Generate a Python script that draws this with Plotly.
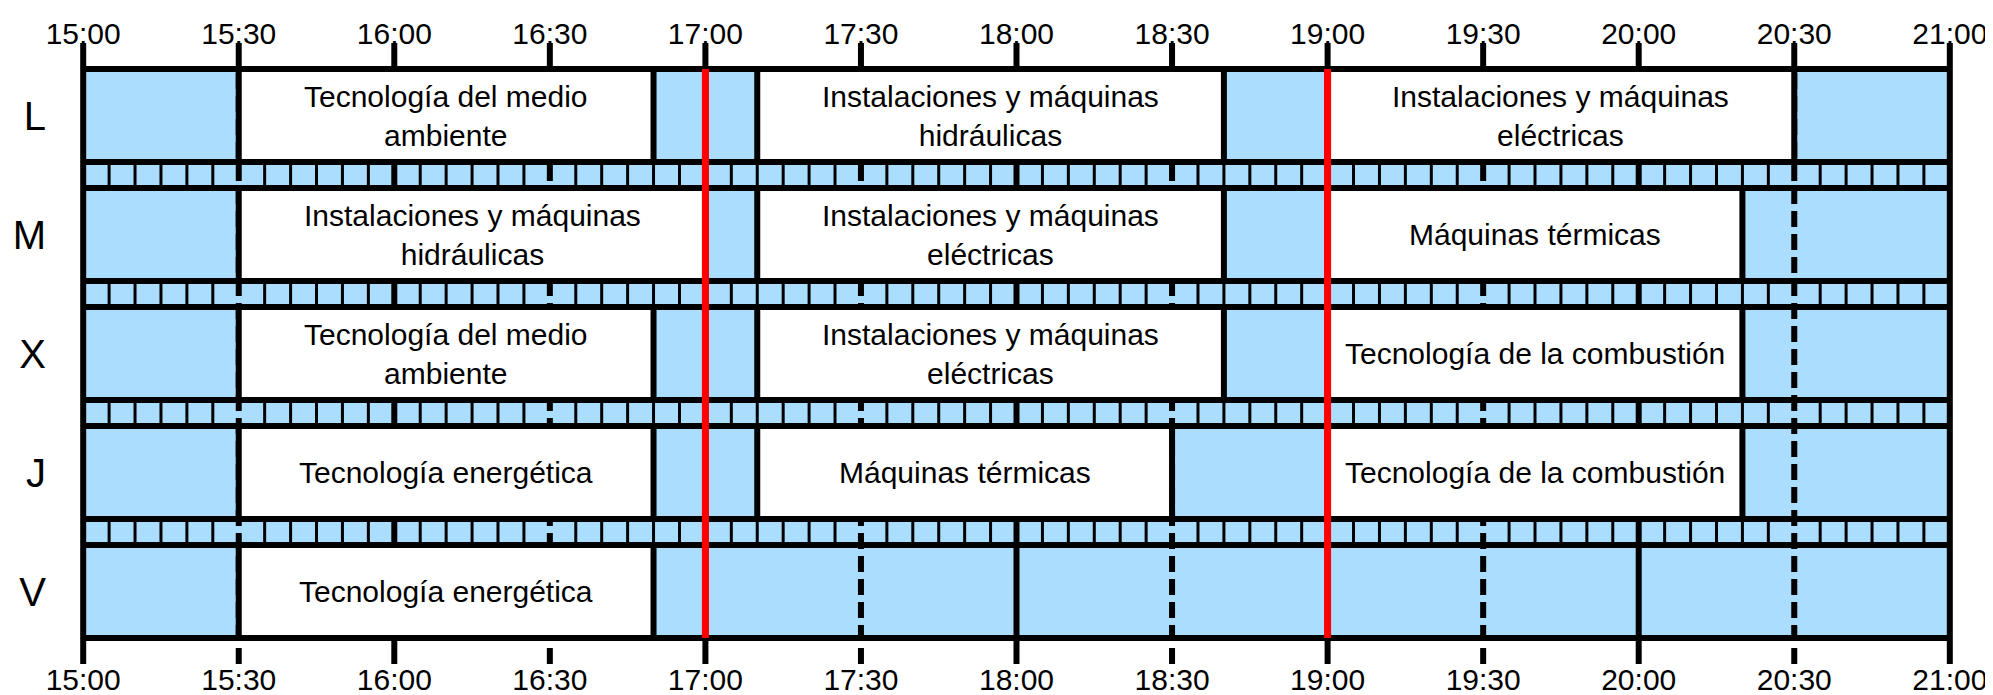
import plotly.graph_objects as go

# Horario de tarde (L-V), bloques de 15:00 a 21:00
DAYS = ["L", "M", "X", "J", "V"]
TIME_LABELS = ["15:00", "15:30", "16:00", "16:30", "17:00", "17:30", "18:00",
               "18:30", "19:00", "19:30", "20:00", "20:30", "21:00"]
BREAK_TIMES = ["17:00", "19:00"]

CLASS_DAY = ["L", "L", "L", "M", "M", "M", "X", "X", "X", "J", "J", "J", "V"]
CLASS_START = ["15:30", "17:10", "19:00",
               "15:30", "17:10", "19:00",
               "15:30", "17:10", "19:00",
               "15:30", "17:10", "19:00",
               "15:30"]
CLASS_END = ["16:50", "18:40", "20:30",
             "17:00", "18:40", "20:20",
             "16:50", "18:40", "20:20",
             "16:50", "18:30", "20:20",
             "16:50"]
CLASS_NAME = ["Tecnología del medio<br>ambiente",
              "Instalaciones y máquinas<br>hidráulicas",
              "Instalaciones y máquinas<br>eléctricas",
              "Instalaciones y máquinas<br>hidráulicas",
              "Instalaciones y máquinas<br>eléctricas",
              "Máquinas térmicas",
              "Tecnología del medio<br>ambiente",
              "Instalaciones y máquinas<br>eléctricas",
              "Tecnología de la combustión",
              "Tecnología energética",
              "Máquinas térmicas",
              "Tecnología de la combustión",
              "Tecnología energética"]

BLUE = "#abddff"
FONT = "Arial, Liberation Sans, sans-serif"
ROW_H = 93      # alto de una fila de día
STRIP_H = 26    # alto de la banda de 5 minutos
PERIOD = ROW_H + STRIP_H
TICK = 26
LW = 6


def to_min(t):
    h, m = t.split(":")
    return (int(h) - 15) * 60 + int(m)


t_end = to_min(TIME_LABELS[-1])
y_end = len(DAYS) * PERIOD - STRIP_H
row_top = {d: i * PERIOD for i, d in enumerate(DAYS)}
row_mid = {d: i * PERIOD + ROW_H / 2 for i, d in enumerate(DAYS)}

starts = [to_min(s) for s in CLASS_START]
ends = [to_min(e) for e in CLASS_END]

fig = go.Figure()
fig.add_trace(
    go.Bar(
        orientation="h",
        base=starts,
        x=[e - s for s, e in zip(starts, ends)],
        y=[row_mid[d] for d in CLASS_DAY],
        width=ROW_H,
        marker=dict(color="white", line=dict(color="black", width=LW)),
        hoverinfo="skip",
        showlegend=False,
    )
)
# traza vacía para activar el eje superior
fig.add_trace(
    go.Scatter(x=[0, t_end], y=[None, None], xaxis="x2", mode="lines",
               hoverinfo="skip", showlegend=False)
)

for s, e, d, name in zip(starts, ends, CLASS_DAY, CLASS_NAME):
    fig.add_annotation(
        x=(s + e) / 2, y=row_mid[d], text=name, showarrow=False,
        font=dict(family=FONT, size=30, color="black"), align="center",
    )

shapes = []
# fondo azul
shapes.append(dict(type="rect", x0=0, x1=t_end, y0=0, y1=y_end, layer="below",
                   fillcolor=BLUE, line=dict(width=0)))
# divisiones de 5 minutos en las bandas
for m in range(5, t_end, 5):
    if m % 30 == 0:
        continue
    for i in range(len(DAYS) - 1):
        y0 = i * PERIOD + ROW_H
        shapes.append(dict(type="line", x0=m, x1=m, y0=y0, y1=y0 + STRIP_H, layer="below",
                           line=dict(color="black", width=3)))
# líneas de hora y media hora
for t in TIME_LABELS:
    m = to_min(t)
    if m in (0, t_end):
        continue
    if m % 60 == 0:
        shapes.append(dict(type="line", x0=m, x1=m, y0=-TICK, y1=y_end + TICK, layer="below",
                           line=dict(color="black", width=LW)))
    else:
        shapes.append(dict(type="line", x0=m, x1=m, y0=y_end + TICK, y1=0, layer="below",
                           line=dict(color="black", width=LW, dash="16px,7px")))
        shapes.append(dict(type="line", x0=m, x1=m, y0=-TICK, y1=0, layer="below",
                           line=dict(color="black", width=LW)))
# bordes laterales
for m in (0, t_end):
    shapes.append(dict(type="line", x0=m, x1=m, y0=-TICK, y1=y_end + TICK, layer="above",
                       line=dict(color="black", width=LW)))
# líneas horizontales de filas
for d in DAYS:
    for y in (row_top[d], row_top[d] + ROW_H):
        shapes.append(dict(type="line", x0=0, x1=t_end, y0=y, y1=y, layer="above",
                           line=dict(color="black", width=LW)))
# descansos
for t in BREAK_TIMES:
    m = to_min(t)
    shapes.append(dict(type="line", x0=m, x1=m, y0=0, y1=y_end, layer="above",
                       line=dict(color="#ff0000", width=7)))

tickvals = [to_min(t) for t in TIME_LABELS]
xaxis_common = dict(
    range=[-1, t_end + 1], tickvals=tickvals, ticktext=TIME_LABELS, ticks="",
    showgrid=False, zeroline=False, showline=False, fixedrange=True, automargin=False,
    tickfont=dict(family=FONT, size=30, color="black"),
)

# la página añade 8 px de margen al cuerpo
fig.update_layout(
    width=1985, height=687,
    margin=dict(l=70, r=38, t=35, b=31),
    paper_bgcolor="white", plot_bgcolor="white",
    shapes=shapes,
    showlegend=False,
    xaxis=dict(**xaxis_common, side="bottom", ticklabelstandoff=-5),
    xaxis2=dict(**xaxis_common, side="top", overlaying="x", ticklabelstandoff=-8),
    yaxis=dict(
        range=[y_end + TICK, -TICK], tickvals=[row_mid[d] for d in DAYS], ticktext=DAYS,
        ticks="", showgrid=False, zeroline=False, showline=False, fixedrange=True,
        automargin=False,
        tickfont=dict(family=FONT, size=40, color="black"), ticklabelstandoff=31,
    ),
)

fig.write_html("out.html")
